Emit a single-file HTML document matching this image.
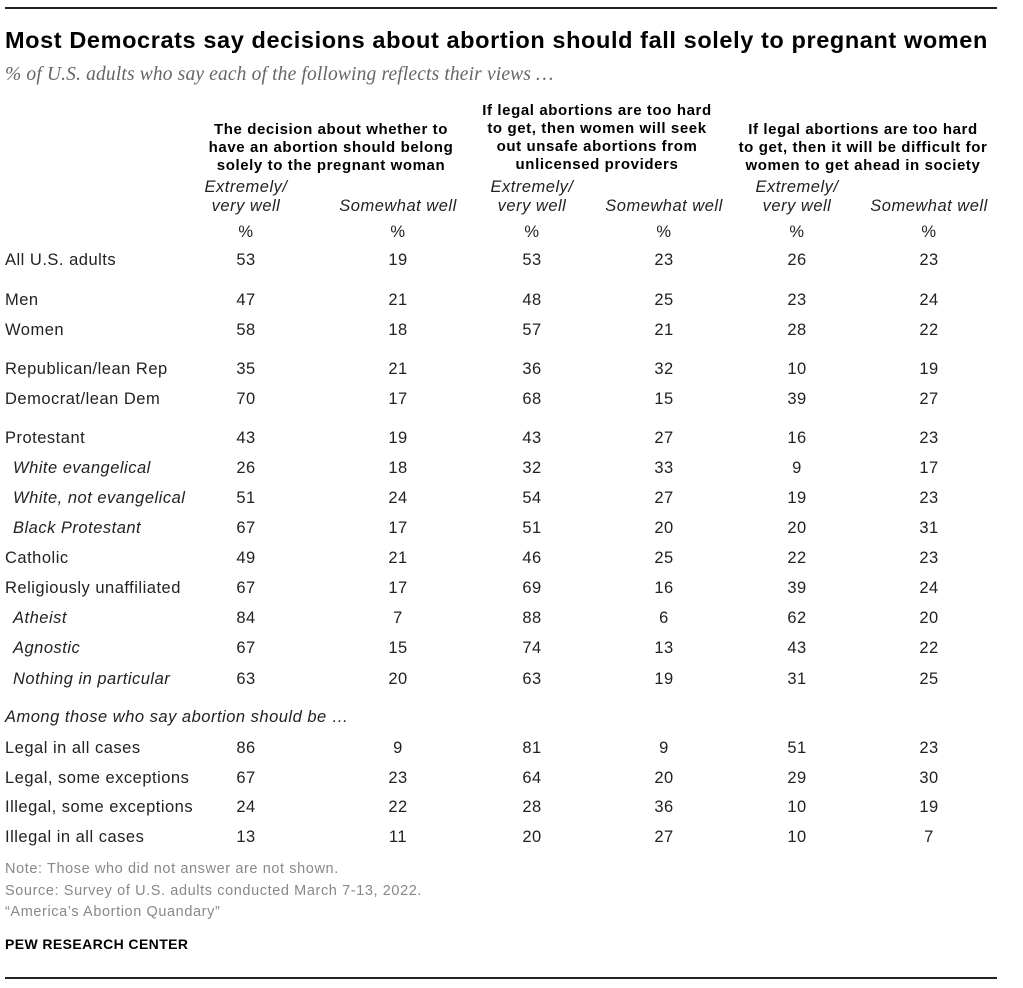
<!DOCTYPE html>
<html><head><meta charset="utf-8"><style>
body{margin:0;width:1023px;height:988px;background:#fff;position:relative;font-family:"Liberation Sans",sans-serif;color:#222;overflow:hidden}
.a{position:absolute;white-space:nowrap}
.c{transform:translateX(-50%);text-align:center}
.rule{position:absolute;left:5px;width:992px;height:2px;background:#222}
.t{font-size:16.5px;line-height:18px;letter-spacing:0.5px}
.h{font-size:15px;font-weight:bold;line-height:18px;color:#000;letter-spacing:0.6px}
.i{font-style:italic}
.n{font-size:14.5px;color:#888;letter-spacing:0.6px}
</style></head><body>
<div class="rule" style="top:7px"></div>
<div class="a" style="left:5px;top:27px;font-size:23.5px;font-weight:bold;color:#000;letter-spacing:0.6px">Most Democrats say decisions about abortion should fall solely to pregnant women</div>
<div class="a i" style="left:5px;top:64px;font-family:'Liberation Serif',serif;font-size:19.5px;color:#666;letter-spacing:0.15px">% of U.S. adults who say each of the following reflects their views …</div>
<div class="a c h" style="left:331px;top:121px">The decision about whether to<br>have an abortion should belong<br>solely to the pregnant woman</div>
<div class="a c h" style="left:597px;top:102px">If legal abortions are too hard<br>to get, then women will seek<br>out unsafe abortions from<br>unlicensed providers</div>
<div class="a c h" style="left:863px;top:121px">If legal abortions are too hard<br>to get, then it will be difficult for<br>women to get ahead in society</div>
<div id="tbl"></div>
<div class="a n" style="left:5px;top:861px">Note: Those who did not answer are not shown.</div>
<div class="a n" style="left:5px;top:883px">Source: Survey of U.S. adults conducted March 7-13, 2022.</div>
<div class="a n" style="left:5px;top:904px">“America’s Abortion Quandary”</div>
<div class="a" style="left:5px;top:936px;font-size:14px;font-weight:bold;color:#000;letter-spacing:0.4px">PEW RESEARCH CENTER</div>
<div class="rule" style="top:977px"></div>
<script>
const rowLabels=["All U.S. adults","Men","Women","Republican/lean Rep","Democrat/lean Dem","Protestant","White evangelical","White, not evangelical","Black Protestant","Catholic","Religiously unaffiliated","Atheist","Agnostic","Nothing in particular","Among those who say abortion should be …","Legal in all cases","Legal, some exceptions","Illegal, some exceptions","Illegal in all cases"];
const rowY=[260,300,330,369,399,438,468,498,528,558,588,618,648,679,717,748,778,807,837];
const rowItalic=[0,0,0,0,0,0,1,1,1,0,0,1,1,1,1,0,0,0,0];
const q1Extreme=[53,47,58,35,70,43,26,51,67,49,67,84,67,63,null,86,67,24,13];
const q1Somewhat=[19,21,18,21,17,19,18,24,17,21,17,7,15,20,null,9,23,22,11];
const q2Extreme=[53,48,57,36,68,43,32,54,51,46,69,88,74,63,null,81,64,28,20];
const q2Somewhat=[23,25,21,32,15,27,33,27,20,25,16,6,13,19,null,9,20,36,27];
const q3Extreme=[26,23,28,10,39,16,9,19,20,22,39,62,43,31,null,51,29,10,10];
const q3Somewhat=[23,24,22,19,27,23,17,23,31,23,24,20,22,25,null,23,30,19,7];
const colX=[246,398,532,664,797,929];
const cols=[q1Extreme,q1Somewhat,q2Extreme,q2Somewhat,q3Extreme,q3Somewhat];
const tbl=document.getElementById('tbl');
function add(txt,x,y,cls,center){const d=document.createElement('div');d.className='a t '+cls+(center?' c':'');d.style.left=x+'px';d.style.top=(y-9)+'px';d.textContent=txt;tbl.appendChild(d);return d;}
colX.forEach((x,k)=>{
 if(k%2==0){
  const e=add('Extremely/',x,187,'i',true);
  
  
  const v=add('very well',x,206,'i',true);
  
  
 } else {
  const s=add('Somewhat well',x,206,'i',true);
  
  
 }
 const p=add('%',x,232,'',true);
 
 
});
rowLabels.forEach((lab,r)=>{
 const ind=rowItalic[r]&&r!=14?13:5;
 const l=add(lab,ind,rowY[r],rowItalic[r]?'i':'',false);
 
 
 cols.forEach((arr,k)=>{
  if(arr[r]==null)return;
  const v=add(String(arr[r]),colX[k],rowY[r],'',true);
  
  
 });
});
</script>
</body></html>
